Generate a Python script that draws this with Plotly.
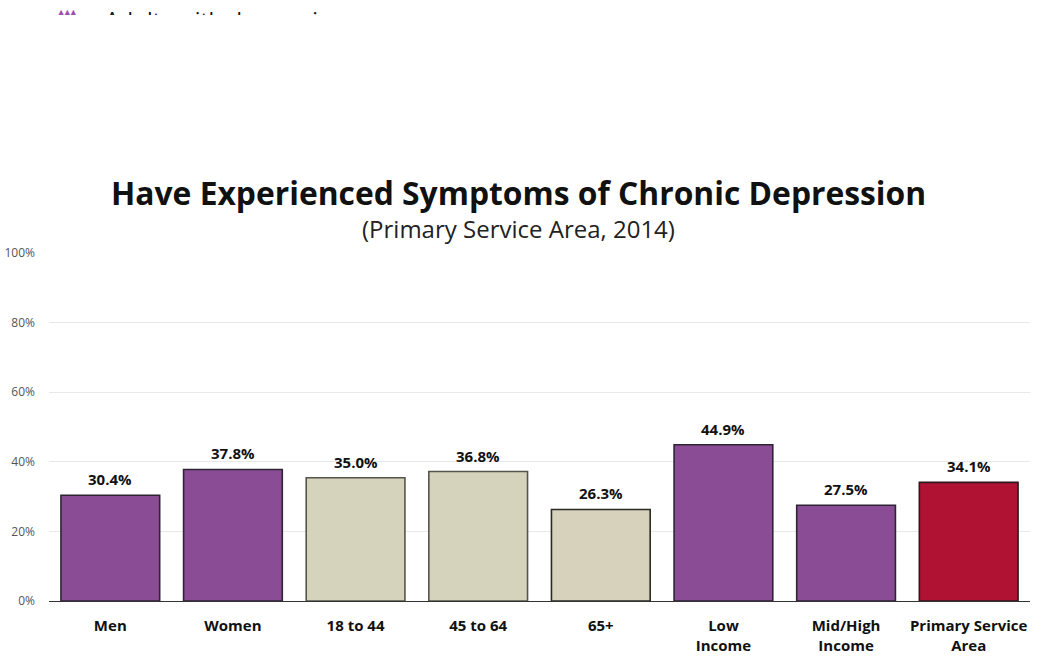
import plotly.graph_objects as go

categories = ["Men", "Women", "18 to 44", "45 to 64", "65+", "Low<br>Income", "Mid/High<br>Income", "Primary Service<br>Area"]
bar_heights = [30.4, 37.8, 35.4, 37.2, 26.3, 44.9, 27.5, 34.1]
value_labels = ["30.4%", "37.8%", "35.0%", "36.8%", "26.3%", "44.9%", "27.5%", "34.1%"]
bar_colors = ["#8b4c96", "#8b4c96", "#d6d3bc", "#d6d3bc", "#d6d2bb", "#8b4c96", "#8b4c96", "#b01233"]
line_colors = ["#2e2433", "#2e2433", "#55554a", "#55554a", "#2b2b26", "#2e2433", "#2e2433", "#2a1a1e"]
y_ticks = [0, 20, 40, 60, 80, 100]
y_tick_labels = ["0%", "20%", "40%", "60%", "80%", "100%"]
title_text = "Have Experienced Symptoms of Chronic Depression"
subtitle_text = "(Primary Service Area, 2014)"
top_text = "Adults with depression"

FONT = "Open Sans"
L, R, T, B = 49, 12, 253, 54.5
pw, ph = 1042 - L - R, 656 - T - B


def px(xp, yp):
    return (xp - L) / pw, (656 - yp - B) / ph


fig = go.Figure(go.Bar(
    x=categories, y=bar_heights, width=0.805,
    marker=dict(color=bar_colors, line=dict(color=line_colors, width=1.6)),
    cliponaxis=False, hoverinfo="skip",
))

annotations = [dict(
    x=c, y=h, xref="x", yref="y", text=f"<b>{t}</b>", showarrow=False,
    yanchor="bottom", yshift=4, font=dict(family=FONT, size=15, color="#111111"),
) for c, h, t in zip(categories, bar_heights, value_labels)]

tx, ty = px(518.5, 192)
annotations.append(dict(x=tx, y=ty, xref="paper", yref="paper", text=f"<b>{title_text}</b>", showarrow=False,
                        xanchor="center", yanchor="middle", font=dict(family=FONT, size=31.8, color="#111111")))
sx, sy = px(518.5, 228)
annotations.append(dict(x=sx, y=sy, xref="paper", yref="paper", text=subtitle_text, showarrow=False,
                        xanchor="center", yanchor="middle", font=dict(family=FONT, size=24, color="#222222")))

# clipped text at the very top of the page, with a white cover below it
ax, ay = px(103, 2)
annotations.append(dict(x=ax, y=ay, xref="paper", yref="paper", text=top_text, showarrow=False,
                        xanchor="left", yanchor="top",
                        font=dict(family=FONT, size=22.6, color="#111111")))
ix, iy = px(56, 6)
annotations.append(dict(x=ix, y=iy, xref="paper", yref="paper", text="\u25b2\u25b2\u25b2", showarrow=False,
                        xanchor="left", yanchor="top",
                        font=dict(family="DejaVu Sans", size=8, color="#9b4fb0")))
cx, cy = px(0, 15)
annotations.append(dict(x=cx, y=cy, xref="paper", yref="paper", text=" ", showarrow=False,
                        xanchor="left", yanchor="top", width=600, height=60, bgcolor="#ffffff",
                        borderpad=0, borderwidth=0))

fig.update_layout(
    width=1042, height=656, autosize=False,
    margin=dict(l=L, r=R, t=T, b=B, pad=0),
    paper_bgcolor="#ffffff", plot_bgcolor="#ffffff",
    showlegend=False, annotations=annotations,
    font=dict(family=FONT),
    xaxis=dict(type="category", categoryorder="array", categoryarray=categories,
               showgrid=False, ticks="", showline=False, zeroline=False, automargin=False,
               tickfont=dict(family=FONT, size=15, color="#111111"), ticklabelstandoff=14,
               tickvals=categories, ticktext=[f"<b>{c}</b>" for c in categories]),
    yaxis=dict(range=[0, 100], tickvals=y_ticks, ticktext=y_tick_labels, showgrid=True,
               gridcolor="#e8e8e8", gridwidth=1, zeroline=True, zerolinecolor="#333333",
               zerolinewidth=1.2, showline=False, ticks="", automargin=False,
               tickfont=dict(family=FONT, size=12, color="#555555"), ticklabelstandoff=13),
)

fig.write_html("out.html", config={"displayModeBar": False},
               post_script="document.body.style.margin='0';document.documentElement.style.overflow='hidden';")
